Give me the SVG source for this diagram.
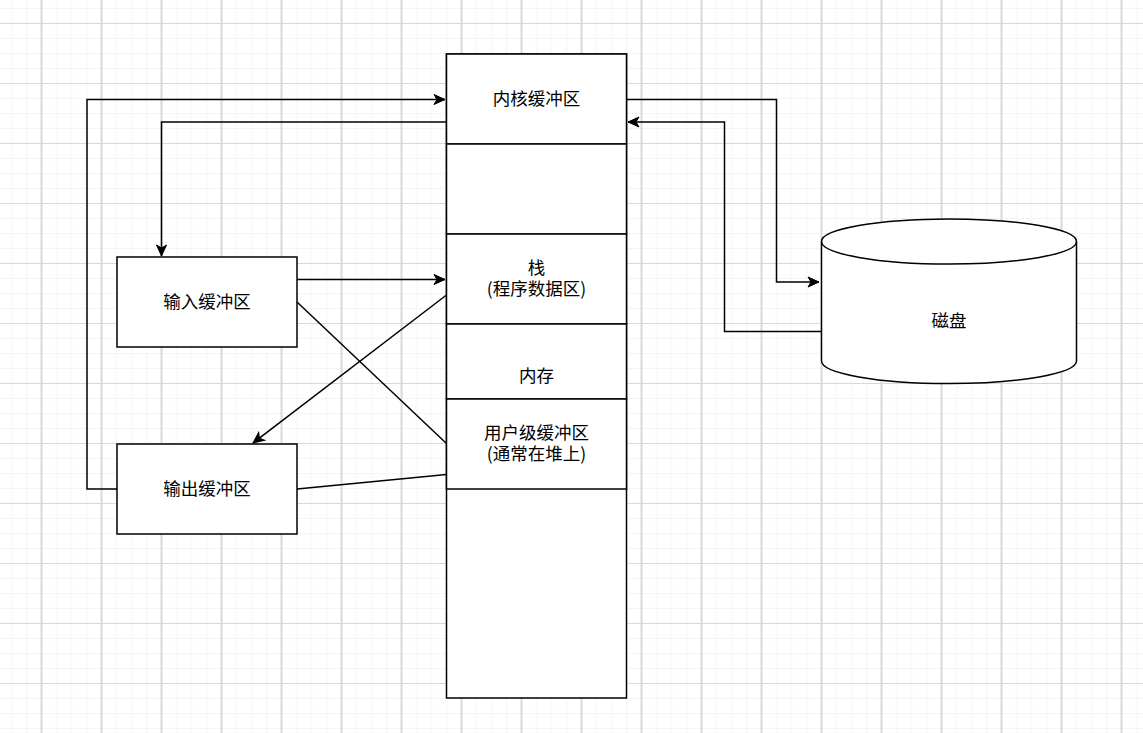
<svg xmlns="http://www.w3.org/2000/svg" width="1143" height="733" viewBox="0 0 1143 733">
<style>
.box{fill:#fff;stroke:#000;stroke-width:1.5}
.lbl{font-family:"Noto Sans CJK SC","Liberation Sans",sans-serif;font-size:17.5px;fill:#000;text-anchor:middle}
.edge{fill:none;stroke:#000;stroke-width:1.5}
</style>
<defs>
<pattern id="grid" patternUnits="userSpaceOnUse" x="40.5" y="23" width="60" height="60">
<rect x="0" y="0" width="60" height="60" fill="#fff"/>
<g fill="#f4f4f4">
<rect x="15.5" y="0" width="1" height="60"/><rect x="30.5" y="0" width="1" height="60"/><rect x="45.5" y="0" width="1" height="60"/>
<rect x="0" y="15" width="60" height="1"/><rect x="0" y="30" width="60" height="1"/><rect x="0" y="45" width="60" height="1"/>
</g>
<g fill="#d9d9d9">
<rect x="0" y="0" width="60" height="1"/>
<rect x="0" y="0" width="2" height="60"/>
</g>
</pattern>
<marker id="arr" markerUnits="userSpaceOnUse" viewBox="-1 -1 14 12" refX="11" refY="5" markerWidth="14" markerHeight="12" orient="auto">
<path d="M0,0 L11,5 L0,10 L3,5 Z" fill="#000" stroke="#000" stroke-width="1" stroke-linejoin="miter"/>
</marker>
</defs>
<rect width="1143" height="733" fill="url(#grid)"/>

<g id="memory">
<rect class="box" x="446.5" y="54" width="180" height="644"/>
</g>
<g id="kernel-buffer">
<rect class="box" x="446.5" y="54" width="180" height="90"/>
<text class="lbl" x="536.5" y="104.5">内核缓冲区</text>
</g>
<g id="empty-1">
<rect class="box" x="446.5" y="144" width="180" height="90"/>
</g>
<g id="stack">
<rect class="box" x="446.5" y="234" width="180" height="90"/>
<text class="lbl" x="536.5" y="274">栈<tspan x="536.5" dy="21">(程序数据区)</tspan></text>
</g>
<g id="memory-label">
<rect class="box" x="446.5" y="324" width="180" height="75"/>
<text class="lbl" x="536.5" y="382">内存</text>
</g>
<g id="user-buffer">
<rect class="box" x="446.5" y="399" width="180" height="90"/>
<text class="lbl" x="536.5" y="439">用户级缓冲区<tspan x="536.5" dy="21">(通常在堆上)</tspan></text>
</g>
<g id="input-buffer">
<rect class="box" x="117" y="257" width="180" height="90"/>
<text class="lbl" x="207" y="308">输入缓冲区</text>
</g>
<g id="output-buffer">
<rect class="box" x="117" y="444" width="180" height="90"/>
<text class="lbl" x="207" y="495">输出缓冲区</text>
</g>
<g id="disk">
<path class="box" d="M821.5,241.5 L821.5,361 A127.5,22.5 0 0 0 1076.5,361 L1076.5,241.5 A127.5,22.5 0 0 0 821.5,241.5 Z"/>
<path class="edge" d="M821.5,241.5 A127.5,22.5 0 0 0 1076.5,241.5"/>
<text class="lbl" x="949" y="326.5">磁盘</text>
</g>

<g id="connectors">
<polyline class="edge" points="627,99.5 776.5,99.5 776.5,282 819,282" marker-end="url(#arr)"/>
<polyline class="edge" points="821,331.5 724.5,331.5 724.5,122 628,122" marker-end="url(#arr)"/>
<polyline class="edge" points="446,122 161.5,122 161.5,256" marker-end="url(#arr)"/>
<polyline class="edge" points="117,489 87,489 87,99.5 445,99.5" marker-end="url(#arr)"/>
<line class="edge" x1="297" y1="279.5" x2="445" y2="279.5" marker-end="url(#arr)"/>
<line class="edge" x1="446.5" y1="295" x2="253" y2="443" marker-end="url(#arr)"/>
<line class="edge" x1="297" y1="302" x2="446.5" y2="443.5"/>
<line class="edge" x1="297" y1="489" x2="446.5" y2="474.5"/>
</g>
</svg>
